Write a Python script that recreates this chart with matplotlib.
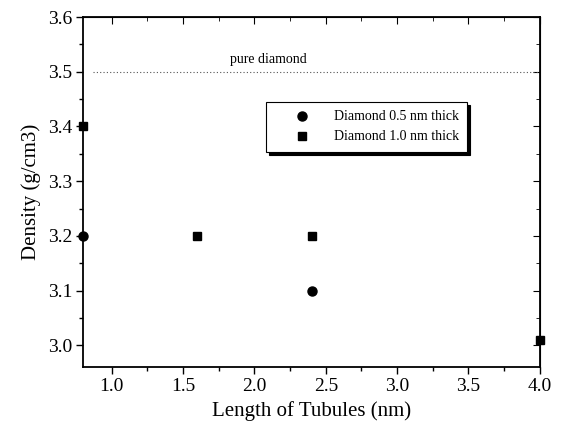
import matplotlib
matplotlib.use("Agg")
import matplotlib.pyplot as plt
from matplotlib.ticker import MultipleLocator

# data
len_05 = [0.8, 2.4]
dens_05 = [3.2, 3.1]
len_10 = [0.8, 1.6, 2.4, 4.0]
dens_10 = [3.4, 3.2, 3.2, 3.01]
pure_diamond = 3.5

plt.rcParams['font.family'] = ['Liberation Serif', 'DejaVu Serif']

fig = plt.figure(figsize=(5.7, 4.26), dpi=100)
ax = fig.add_axes([0.146, 0.138, 0.801, 0.822])

ax.plot(len_05, dens_05, 'o', color='black', markersize=6.5, clip_on=False,
        label='Diamond 0.5 nm thick', zorder=5)
ax.plot(len_10, dens_10, 's', color='black', markersize=6, clip_on=False,
        label='Diamond 1.0 nm thick', zorder=5)

# reference line for pure diamond
ax.axhline(pure_diamond, xmin=0.022, color='#555555', linestyle=(0, (1, 2)), linewidth=0.8)
ax.text(2.1, pure_diamond + 0.01, 'pure diamond', fontsize=10, ha='center', va='bottom')

ax.set_xlim(0.8, 4.0)
ax.set_ylim(2.96, 3.6)
ax.xaxis.set_major_locator(MultipleLocator(0.5))
ax.xaxis.set_minor_locator(MultipleLocator(0.25))
ax.yaxis.set_major_locator(MultipleLocator(0.1))
ax.yaxis.set_minor_locator(MultipleLocator(0.05))
ax.set_xticks([1.0, 1.5, 2.0, 2.5, 3.0, 3.5, 4.0])

ax.tick_params(which='both', direction='out', labelsize=14, width=1, pad=3)
ax.tick_params(which='major', length=5)
ax.tick_params(which='minor', length=3)
for s in ax.spines.values():
    s.set_linewidth(1.3)

ax.set_xlabel('Length of Tubules (nm)', fontsize=15, labelpad=4)
ax.set_ylabel('Density (g/cm3)', fontsize=15, labelpad=5)

# top/right mirror ticks pointing in
top = ax.secondary_xaxis('top')
top.xaxis.set_major_locator(MultipleLocator(0.5))
top.xaxis.set_minor_locator(MultipleLocator(0.25))
top.tick_params(which='both', direction='in', labeltop=False)
top.tick_params(which='major', length=5)
top.tick_params(which='minor', length=3)
right = ax.secondary_yaxis('right')
right.yaxis.set_major_locator(MultipleLocator(0.1))
right.yaxis.set_minor_locator(MultipleLocator(0.05))
right.tick_params(which='both', direction='in', labelright=False)
right.tick_params(which='major', length=5)
right.tick_params(which='minor', length=3)

leg = ax.legend(loc='upper left', bbox_to_anchor=(0.40, 0.757), borderaxespad=0,
                fontsize=10, frameon=True, fancybox=False,
                shadow={'color': 'black', 'alpha': 1, 'ox': 2, 'oy': -2},
                edgecolor='black', framealpha=1,
                borderpad=0.6, handlelength=4, handletextpad=0.3, labelspacing=0.5)
leg.get_frame().set_linewidth(0.8)

fig.savefig('out.png', dpi=100)
